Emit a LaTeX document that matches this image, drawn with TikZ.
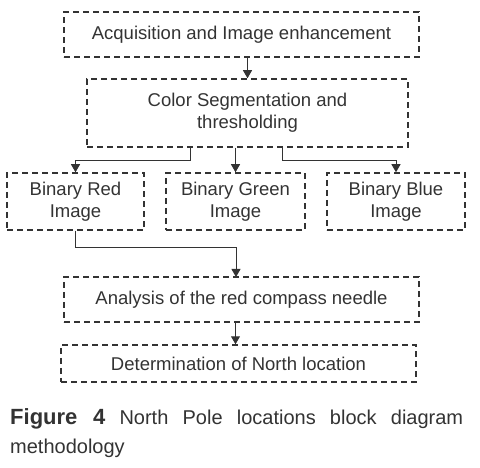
\documentclass[tikz,border=0pt]{standalone}
\usepackage{fontspec}
\setmainfont{Liberation Sans}
\usetikzlibrary{arrows.meta}
\definecolor{ink}{rgb}{0.2,0.2,0.2}

\begin{document}
\begin{tikzpicture}[x=1pt, y=-1pt,
  blk/.style={draw=ink, line width=1.5pt, dash pattern=on 6pt off 4pt, inner sep=0pt, align=center, font=\fontsize{18.5}{22}\selectfont, text=ink},
  arr/.style={draw=ink, line width=1pt, -{Triangle[length=8pt, width=9pt]}}]
  \useasboundingbox (0,0) rectangle (480,468);
  % Blocks (pixel coords, y pointing down)
  \node[blk, minimum width=355pt, minimum height=45pt] (acq) at (241.5,34.5) {Acquisition and Image enhancement};
  \node[blk, minimum width=321pt, minimum height=68pt] (seg) at (247.5,113) {Color Segmentation and\\thresholding};
  \node[blk, minimum width=137pt, minimum height=57pt] (red) at (75.5,201.5) {Binary Red\\Image};
  \node[blk, minimum width=139pt, minimum height=57pt] (green) at (235.5,201.5) {Binary Green\\Image};
  \node[blk, minimum width=138pt, minimum height=57pt] (blue) at (396,201.5) {Binary Blue\\Image};
  \node[blk, minimum width=355pt, minimum height=45pt] (ana) at (241.5,299.5) {Analysis of the red compass needle};
  \node[blk, minimum width=355pt, minimum height=37pt] (det) at (238.5,363.5) {Determination of North location};
  % Branch points
  \coordinate (segL) at (190,147);
  \coordinate (segR) at (282,147);
  \coordinate (anaIn) at (236,277);
  % Arrows
  \draw[arr] (acq.south -| seg.north) -- (seg.north);
  \draw[arr] (segL) -- ++(0,14) -| (red.north);
  \draw[arr] (seg.south -| green.north) -- (green.north);
  \draw[arr] (segR) -- ++(0,14) -| (blue.north);
  \draw[arr] (red.south) -- ++(0,17) -| (anaIn);
  \draw[arr] (ana.south -| green.south) -- (det.north -| green.south);
  % Caption
  \node[anchor=north west, inner sep=0pt, text width=453pt, align=justify, text=ink, font=\fontsize{20}{29}\selectfont] (cap) at (10,408)
    {\hyphenpenalty=10000 {\fontsize{22}{29}\selectfont\textbf{Figure 4}} North Pole locations block diagram\linebreak methodology};
\end{tikzpicture}
\end{document}
